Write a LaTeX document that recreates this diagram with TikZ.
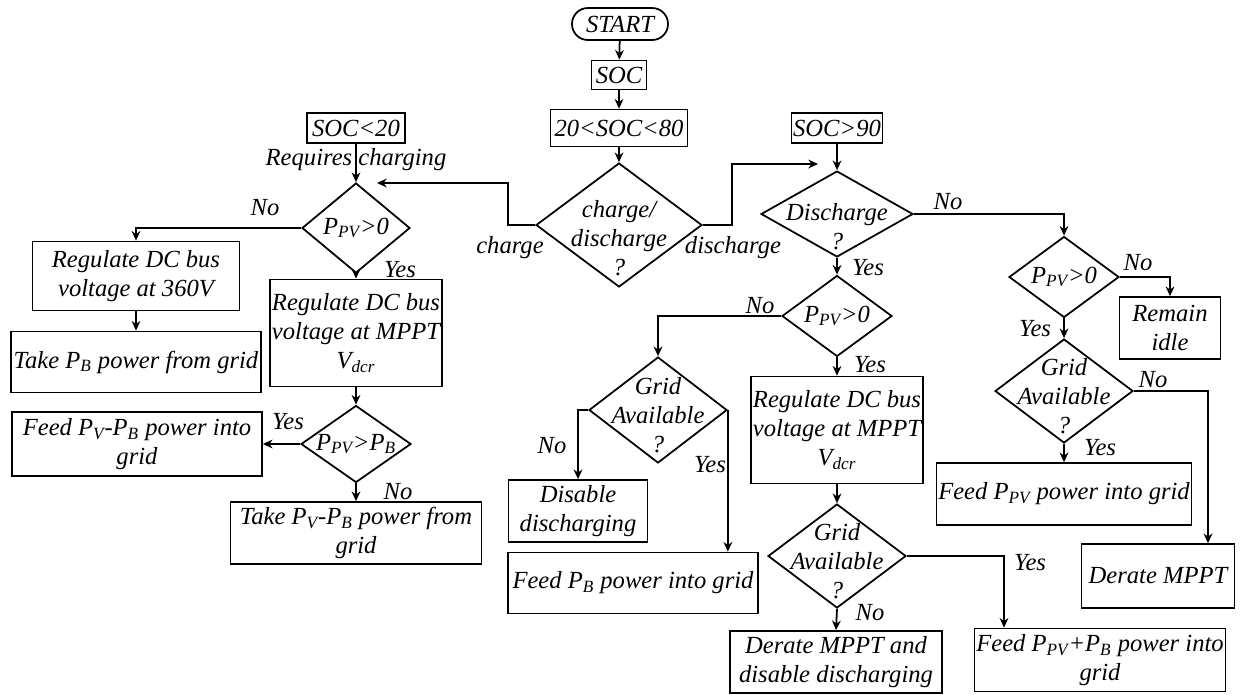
\documentclass[tikz,border=0pt]{standalone}
\usepackage{fontspec}
\setmainfont{Liberation Serif}
\usetikzlibrary{arrows.meta, positioning, shapes.geometric, calc}
\newcommand{\sbs}[1]{\textsubscript{#1}}

\begin{document}
\begin{tikzpicture}[x=0.02cm, y=-0.02cm, line width=1pt,
  >={Stealth[length=5.5pt, width=5pt]},
  every node/.style={font=\fontsize{14}{16.4}\selectfont\itshape},
  box/.style={draw, rectangle, align=center, inner xsep=1pt, inner ysep=1pt},
  dec/.style={draw, diamond, inner sep=0pt},
  dtext/.style={align=center},
  term/.style={draw, rectangle, rounded corners=9pt, minimum width=1.92cm, minimum height=0.64cm}]
\useasboundingbox (0,0) rectangle (1256,694);

% Start and SOC check
\node[term] (start) at (620,24) {START};
\node[box, minimum width=1.1cm, minimum height=0.58cm] (soc) at (619,75) {SOC};
\node[box, minimum width=2.74cm, minimum height=0.74cm] (socmid) at (619,128) {20<SOC<80};
\node[dec, minimum width=3.32cm, minimum height=2.48cm,
  label={[dtext, yshift=-7.5pt]center:charge/\\discharge\\?}] (cd) at (619,225) {};
\node (lcharge) at (510,248) {charge};
\node (ldischarge) at (733,248) {discharge};

% Charging side (SOC<20)
\node[box, minimum width=1.96cm, minimum height=0.6cm] (soclow) at (356,128) {SOC<20};
\node (lreq) at (356,160) {Requires charging};
\node[dec, minimum width=2.16cm, minimum height=1.8cm,
  label={[dtext]center:P\sbs{PV}>0}] (ppva) at (356,228) {};
\node[box, minimum width=4.14cm, minimum height=1.38cm] (regfix) at (136,276) {Regulate DC bus\\voltage at 360V};
\node[box, minimum width=5cm, minimum height=1.22cm] (takeb) at (136,362) {Take P\sbs{B} power from grid};
\node[box, minimum width=3.3cm, minimum height=2.14cm] (regla) at (356,333) {Regulate DC bus\\voltage at MPPT\\V\sbs{dcr}};
\node[dec, minimum width=2.2cm, minimum height=1.54cm,
  label={[dtext]center:P\sbs{PV}>P\sbs{B}}] (ppvb) at (356,444) {};
\node[box, minimum width=5cm, minimum height=1.28cm] (feeddiff) at (137,444) {Feed P\sbs{V}-P\sbs{B} power into\\grid};
\node[box, minimum width=5.02cm, minimum height=1.24cm] (takediff) at (356,533) {Take P\sbs{V}-P\sbs{B} power from\\grid};

% Discharging side (SOC>90)
\node[box, minimum width=1.78cm, minimum height=0.6cm] (sochigh) at (837,128) {SOC>90};
\node[dec, minimum width=3.04cm, minimum height=1.72cm,
  label={[dtext, yshift=-7pt]center:Discharge\\?}] (dis) at (837,214) {};
\node[dec, minimum width=2.2cm, minimum height=1.62cm,
  label={[dtext]center:P\sbs{PV}>0}] (ppvc) at (837,316) {};
\node[dec, minimum width=2.76cm, minimum height=2.12cm,
  label={[dtext, yshift=-3pt]center:Grid\\Available\\?}] (grida) at (658,410) {};
\node[box, minimum width=2.78cm, minimum height=1.24cm] (disable) at (578,511) {Disable\\discharging};
\node[box, minimum width=5cm, minimum height=1.22cm] (feedb) at (633,583) {Feed P\sbs{B} power into grid};
\node[box, minimum width=3.3cm, minimum height=2.14cm] (reglb) at (837,430) {Regulate DC bus\\voltage at MPPT\\V\sbs{dcr}};
\node[dec, minimum width=2.76cm, minimum height=2.08cm,
  label={[dtext, yshift=-3pt]center:Grid\\Available\\?}] (gridb) at (837,556) {};
\node[box, minimum width=4.24cm, minimum height=1.24cm] (deratedis) at (836,662) {Derate MPPT and\\disable discharging};

% No discharge: PV only
\node[dec, minimum width=2.2cm, minimum height=1.62cm,
  label={[dtext]center:P\sbs{PV}>0}] (ppvd) at (1064,277) {};
\node[box, minimum width=2.02cm, minimum height=1.24cm] (idle) at (1170,328) {Remain\\idle};
\node[dec, minimum width=2.76cm, minimum height=2.08cm,
  label={[dtext, yshift=-3pt]center:Grid\\Available\\?}] (gridc) at (1064,391) {};
\node[box, minimum width=5cm, minimum height=1.24cm] (feedpv) at (1064,494) {Feed P\sbs{PV} power into grid};
\node[box, minimum width=3.06cm, minimum height=1.28cm] (derate) at (1158,576) {Derate MPPT};
\node[box, minimum width=5cm, minimum height=1.26cm] (feedall) at (1100,660) {Feed P\sbs{PV}+P\sbs{B} power into\\grid};

% Connectors
\coordinate (chgend) at (377,183);
\coordinate (dchend) at (818,164);
\draw[->] (start) -- (soc);
\draw[->] (soc) -- (socmid);
\draw[->] (socmid) -- (cd);
\draw[->] (cd.west) -- ++(-27,0) |- (chgend);
\draw[->] (cd.east) -- ++(29,0) |- (dchend);

\draw[->] (soclow) -- (ppva);
\draw[->] (ppva.west) -| (regfix.north);
\draw[->] (regfix) -- (takeb);
\draw[->] (ppva.south) -- (regla.north);
\draw[->] (regla) -- (ppvb);
\draw[->] (ppvb.west) -- (feeddiff.east);
\draw[->] (ppvb.south) -- (takediff.north);

\draw[->] (sochigh) -- (dis);
\draw[->] (dis.south) -- (ppvc.north);
\draw[->] (ppvc.west) -| (grida.north);
\draw[->] (grida.west) -| (disable.north);
\draw[->] (grida.east) -- (grida.east |- feedb.north);
\draw[->] (ppvc.south) -- (reglb.north);
\draw[->] (reglb) -- (gridb);
\draw[->] (gridb.south) -- (deratedis.north);
\draw[->] (gridb.east) -| ([xshift=-1.92cm]feedall.north);

\draw[->] (dis.east) -| (ppvd.north);
\draw[->] (ppvd.east) -| (idle.north);
\draw[->] (ppvd.south) -- (gridc.north);
\draw[->] (gridc.south) -- (feedpv.north);
\draw[->] (gridc.east) -| ([xshift=1cm]derate.north);

% Yes/No labels
\node (lnoa) at (265,208) {No};
\node (lyesa) at (400,270) {Yes};
\node (lyesb) at (288,422) {Yes};
\node (lnob) at (398,492) {No};
\node (lyesc) at (868,268) {Yes};
\node (lnoc) at (948,202) {No};
\node (lnod) at (760,306) {No};
\node (lyesd) at (870,365) {Yes};
\node (lnoe) at (552,446) {No};
\node (lyese) at (710,465) {Yes};
\node (lyesf) at (1030,563) {Yes};
\node (lnof) at (870,613) {No};
\node (lnog) at (1138,263) {No};
\node (lyesg) at (1035,329) {Yes};
\node (lnoh) at (1153,380) {No};
\node (lyesh) at (1100,448) {Yes};
\end{tikzpicture}
\end{document}
